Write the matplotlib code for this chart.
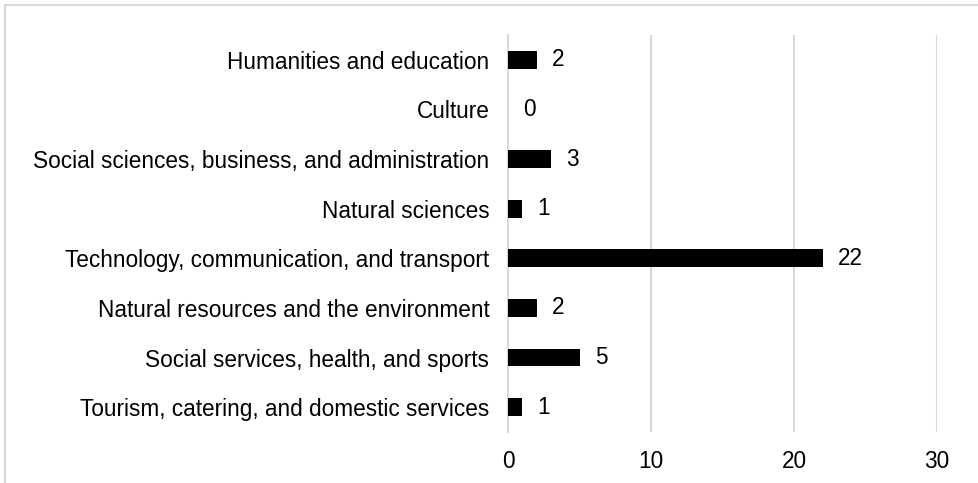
import matplotlib.pyplot as plt
from matplotlib.patches import Rectangle

# data, top to bottom as shown in the chart
categories = [
    'Humanities and education',
    'Culture',
    'Social sciences, business, and administration',
    'Natural sciences',
    'Technology, communication, and transport',
    'Natural resources and the environment',
    'Social services, health, and sports',
    'Tourism, catering, and domestic services',
]
counts = [2, 0, 3, 1, 22, 2, 5, 1]
xticks = [0, 10, 20, 30]

plt.rcParams['font.family'] = ['Liberation Sans', 'DejaVu Sans']
fs = 16.3

fig = plt.figure(figsize=(9.79, 4.83), dpi=100)
ax = fig.add_axes([0.519, 0.1056, 0.438, 0.822])

# outer frame (only top/left edges visible in the original crop)
fig.patches.append(Rectangle((5 / 979, -0.1), 1.2, 1 - 5 / 483 + 0.1,
                             transform=fig.transFigure, fill=False,
                             edgecolor='#d9d9d9', linewidth=1.5))

ypos = list(range(len(categories)))
ax.barh(ypos, counts, height=0.36, color='black', zorder=3)

for y, v in zip(ypos, counts):
    ax.annotate(str(v), (v, y), xytext=(11, 0), textcoords='offset points',
                va='center', ha='left', fontsize=fs)

ax.set_xlim(0, 30)
ax.set_ylim(len(categories) - 0.5, -0.5)
ax.set_xticks(xticks)
ax.set_yticks(ypos)
ax.set_yticklabels(categories)
ax.tick_params(axis='both', length=0, labelsize=fs)
ax.tick_params(axis='y', pad=13.5)
ax.tick_params(axis='x', pad=13)
ax.grid(axis='x', color='#d9d9d9', linewidth=1.5, zorder=0)
for s in ['top', 'right', 'bottom']:
    ax.spines[s].set_visible(False)
ax.spines['left'].set_color('#d9d9d9')
ax.spines['left'].set_linewidth(1.5)

fig.savefig('out.png', dpi=100)
